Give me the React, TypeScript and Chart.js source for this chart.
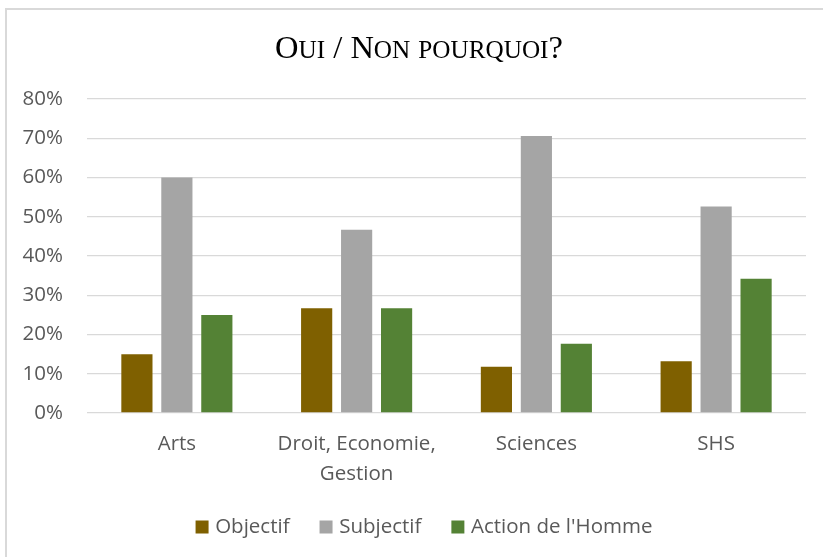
import React, { useEffect, useRef } from "react";
import { Chart, registerables } from "chart.js";

Chart.register(...registerables);

const categories: (string | string[])[] = ["Arts", ["Droit, Economie,", "Gestion"], "Sciences", "SHS"];
const seriesNames = ["Objectif", "Subjectif", "Action de l'Homme"];
const objectif = [15.0, 26.67, 11.76, 13.16];
const subjectif = [60.0, 46.67, 70.59, 52.63];
const actionHomme = [25.0, 26.67, 17.65, 34.21];
const seriesColors = ["#7f6000", "#a5a5a5", "#548235"];
const yMin = 0;
const yMax = 80;
const yStep = 10;
const titleText = "Oui / Non pourquoi?";

const W = 823;
const H = 557;
const FONT = "'Open Sans', sans-serif";
const FONT_SIZE = 20.5;
const TEXT_COLOR = "#595959";

function drawSmallCaps(ctx: CanvasRenderingContext2D, text: string, cx: number, baseline: number, big: number, small: number, family: string, color: string) {
  const runs: { t: string; size: number; w: number }[] = [];
  for (const ch of text) {
    const lower = ch !== ch.toUpperCase();
    const size = lower ? small : big;
    const t = lower ? ch.toUpperCase() : ch;
    const last = runs[runs.length - 1];
    if (last && last.size === size) last.t += t;
    else runs.push({ t, size, w: 0 });
  }
  let total = 0;
  for (const r of runs) {
    ctx.font = `${r.size}px ${family}`;
    r.w = ctx.measureText(r.t).width;
    total += r.w;
  }
  let x = cx - total / 2;
  ctx.textBaseline = "alphabetic";
  ctx.textAlign = "left";
  ctx.fillStyle = color;
  for (const r of runs) {
    ctx.font = `${r.size}px ${family}`;
    ctx.fillText(r.t, x, baseline);
    x += r.w;
  }
}

const framePlugin = {
  id: "frame",
  beforeDraw(chart: any) {
    const ctx = chart.ctx as CanvasRenderingContext2D;
    ctx.save();
    ctx.fillStyle = "#ffffff";
    ctx.fillRect(0, 0, chart.width, chart.height);
    ctx.strokeStyle = "#d9d9d9";
    ctx.lineWidth = 2;
    ctx.beginPath();
    ctx.moveTo(6, chart.height);
    ctx.lineTo(6, 9);
    ctx.lineTo(chart.width, 9);
    ctx.stroke();
    ctx.restore();
  },
  afterDraw(chart: any) {
    const ctx = chart.ctx as CanvasRenderingContext2D;
    ctx.save();
    drawSmallCaps(ctx, titleText, 419, 58, 32.5, 25.2, "'Liberation Serif', 'Times New Roman', serif", "#000000");
    // legend
    ctx.font = `${FONT_SIZE}px ${FONT}`;
    const box = 13;
    const gap = 6.6;
    const spacing = 30;
    const ds = chart.data.datasets;
    const widths = ds.map((d: any) => box + gap + ctx.measureText(d.label).width);
    const total = widths.reduce((a: number, b: number) => a + b, 0) + spacing * (ds.length - 1);
    let x = 424 - total / 2;
    const cy = 527;
    ctx.textBaseline = "middle";
    ctx.textAlign = "left";
    ds.forEach((d: any, i: number) => {
      ctx.fillStyle = d.backgroundColor;
      ctx.fillRect(x, cy - box / 2, box, box);
      ctx.fillStyle = TEXT_COLOR;
      ctx.fillText(d.label, x + box + gap, cy);
      x += widths[i] + spacing;
    });
    ctx.restore();
  },
};

export default function App() {
  const ref = useRef<HTMLCanvasElement | null>(null);
  useEffect(() => {
    if (!ref.current) return;
    const seriesValues = [objectif, subjectif, actionHomme];
    const chart = new Chart(ref.current, {
      type: "bar",
      data: {
        labels: categories as any,
        datasets: seriesNames.map((name, i) => ({
          label: name,
          data: seriesValues[i],
          backgroundColor: seriesColors[i],
          borderWidth: 0,
          categoryPercentage: 0.667,
          barPercentage: 0.78,
        })),
      },
      options: {
        responsive: false,
        animation: false,
        events: [],
        layout: { padding: { top: 99, right: 17, left: 0, bottom: 64 } },
        plugins: {
          legend: { display: false },
          title: { display: false },
          tooltip: { enabled: false },
        },
        scales: {
          x: {
            grid: { display: false, drawTicks: false },
            border: { display: false },
            ticks: {
              color: TEXT_COLOR,
              font: { family: FONT, size: FONT_SIZE, lineHeight: 1.46 },
              padding: 16,
              maxRotation: 0,
              autoSkip: false,
            },
            afterFit: (scale: any) => {
              scale.height = 80;
            },
          },
          y: {
            min: yMin,
            max: yMax,
            grid: { color: "#d9d9d9", lineWidth: 1.3, drawTicks: false },
            border: { display: false },
            ticks: {
              stepSize: yStep,
              color: TEXT_COLOR,
              font: { family: FONT, size: FONT_SIZE },
              padding: 24,
              callback: (v: any) => `${v}%`,
            },
            afterFit: (scale: any) => {
              scale.width = 87;
            },
          },
        },
      },
      plugins: [framePlugin],
    });
    return () => chart.destroy();
  }, []);
  return (
    <div style={{ position: "fixed", left: 0, top: 0, width: W, height: H, background: "#fff" }}>
      <canvas ref={ref} width={W} height={H} style={{ display: "block", width: W, height: H }} />
    </div>
  );
}
